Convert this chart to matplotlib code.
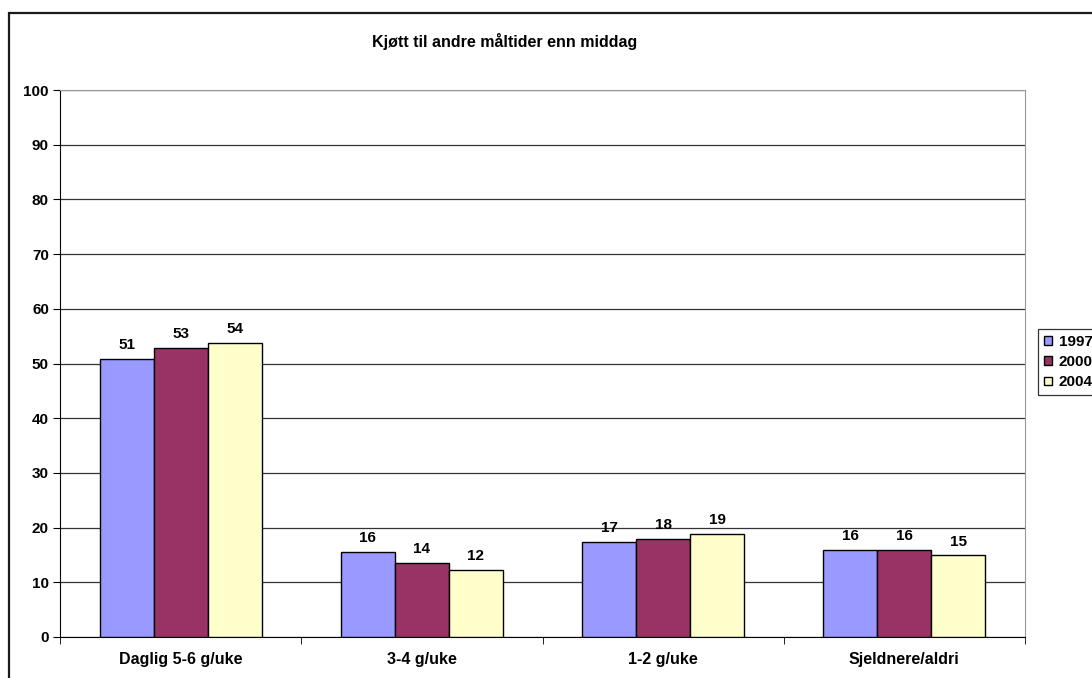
import matplotlib
matplotlib.use("Agg")
import matplotlib.pyplot as plt
from matplotlib.patches import Rectangle
import numpy as np

plt.rcParams['font.family'] = ['Liberation Sans', 'DejaVu Sans']

categories = ["Daglig 5-6 g/uke", "3-4 g/uke", "1-2 g/uke", "Sjeldnere/aldri"]
years = ["1997", "2000", "2004"]
values_1997 = [50.8, 15.6, 17.3, 15.9]
values_2000 = [52.9, 13.6, 18.0, 15.9]
values_2004 = [53.8, 12.3, 18.9, 14.9]
colors = ["#9999FF", "#993366", "#FFFFCC"]
title = "Kjøtt til andre måltider enn middag"

fig = plt.figure(figsize=(10.92, 6.78), dpi=100)
ax = fig.add_axes([60/1092, 41/678, 965/1092, 547/678])

# outer chart-area frame
fig.patches.append(Rectangle((9/1092, -0.2), 2.0, 1 - 12.5/678 + 0.2,
                             transform=fig.transFigure, fill=False,
                             edgecolor='#1a1a1a', linewidth=1.6))

x = np.arange(len(categories))
w = 0.224
series = [values_1997, values_2000, values_2004]
for i, (vals, col, yr) in enumerate(zip(series, colors, years)):
    bars = ax.bar(x + (i - 1) * w, vals, w, color=col, edgecolor='black',
                  linewidth=1.0, label=yr, zorder=3)
    ax.bar_label(bars, fmt='%.0f', padding=5, fontsize=11, fontweight='bold')

ax.set_xlim(-0.5, len(categories) - 0.5)
ax.set_ylim(0, 100)
ax.set_yticks(range(0, 101, 10))
ax.yaxis.grid(True, color='#333333', linewidth=0.9, zorder=0)
ax.set_axisbelow(True)

ax.set_xticks(x)
ax.set_xticklabels(categories, fontsize=11.5, fontweight='bold')
ax.tick_params(axis='x', length=0, pad=11)
ax.set_xticks(np.arange(-0.5, len(categories), 1.0), minor=True)
ax.tick_params(axis='x', which='minor', length=5, direction='out', color='black')
ax.tick_params(axis='y', length=5, direction='out', labelsize=11, pad=3)
for lab in ax.get_yticklabels():
    lab.set_fontweight('bold')

ax.spines['left'].set_color('black')
ax.spines['bottom'].set_color('black')
ax.spines['right'].set_color('#999999')
ax.spines['top'].set_color('#999999')

fig.text(505/1092, 1 - 42/678, title, ha='center', va='center',
         fontsize=11.5, fontweight='bold')

leg = fig.legend(loc='upper left', bbox_to_anchor=(1038/1092, 1 - 329/678),
                 fontsize=11, frameon=True, fancybox=False, edgecolor='black',
                 handlelength=0.5, handleheight=0.5, handletextpad=0.45,
                 labelspacing=0.4, borderpad=0.4, borderaxespad=0)
for t in leg.get_texts():
    t.set_fontweight('bold')
leg.get_frame().set_linewidth(0.9)

fig.savefig("out.png", dpi=100)
